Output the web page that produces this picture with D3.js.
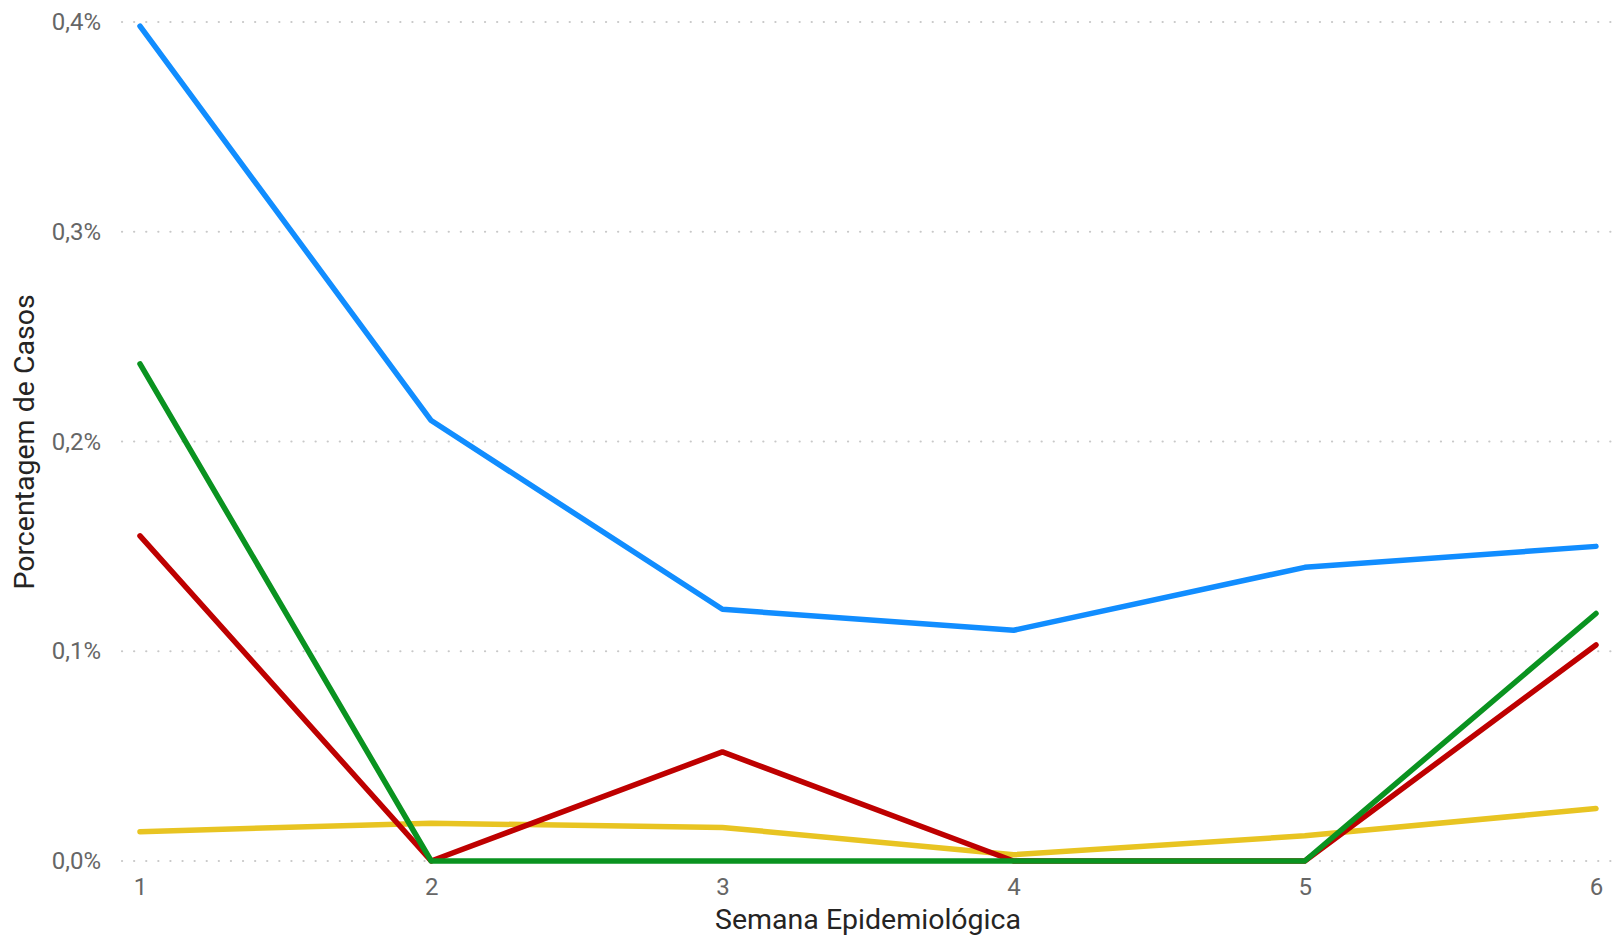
<!DOCTYPE html>
<html>
<head>
<meta charset="utf-8">
<script src="https://cdn.jsdelivr.net/npm/d3@7"></script>
<style>
  body { margin: 0; background: #fff; }
  text { font-family: Roboto, "Noto Sans", sans-serif; }
  .tick-label { fill: #666666; font-size: 24px; }
  .axis-title { fill: #252423; font-size: 28.5px; }
</style>
</head>
<body>
<div id="chart"></div>
<script>
const weeks = [1, 2, 3, 4, 5, 6]
const yTicks = [0, 0.001, 0.002, 0.003, 0.004]

const seriesBlue = [0.00398, 0.0021, 0.0012, 0.0011, 0.0014, 0.0015]
const seriesYellow = [0.00014, 0.00018, 0.00016, 0.00003, 0.00012, 0.00025]
const seriesRed = [0.00155, 0, 0.00052, 0, 0, 0.00103]
const seriesGreen = [0.00237, 0, 0, 0, 0, 0.00118]

// drawing order: first drawn sits below
const series = [
  {name: "amarelo", color: "#E8C422", values: seriesYellow},
  {name: "azul", color: "#118DFF", values: seriesBlue},
  {name: "vermelho", color: "#BE0000", values: seriesRed},
  {name: "verde", color: "#0A9320", values: seriesGreen},
]

const width = 1612, height = 938
const plot = {left: 140, right: 1596, top: 22, bottom: 861}

const ptBR = d3.formatLocale({decimal: ",", thousands: ".", grouping: [3], currency: ["R$", ""]})
const pct = ptBR.format(".1%")

const x = d3.scaleLinear().domain([1, 6]).range([plot.left, plot.right])
const y = d3.scaleLinear().domain([0, 0.004]).range([plot.bottom, plot.top])

const svg = d3.select("#chart").append("svg")
  .attr("width", width)
  .attr("height", height)

// gridlines
svg.append("g")
  .selectAll("line")
  .data(yTicks)
  .join("line")
  .attr("x1", 122)
  .attr("x2", width)
  .attr("y1", d => y(d))
  .attr("y2", d => y(d))
  .attr("stroke", "#C8C8C8")
  .attr("stroke-width", 2.2)
  .attr("stroke-linecap", "round")
  .attr("stroke-dasharray", "0.1,12")

// y axis labels
const yAxis = svg.append("g")
  .attr("transform", `translate(101,0)`)
  .call(d3.axisLeft(y).tickValues(yTicks).tickFormat(pct).tickSize(0).tickPadding(0))
yAxis.select(".domain").remove()
yAxis.selectAll("text")
  .attr("class", "tick-label")
  .attr("fill", null)
  .attr("font-family", null)
  .attr("font-size", null)

// x axis labels
const xAxis = svg.append("g")
  .attr("transform", `translate(0,${plot.bottom})`)
  .call(d3.axisBottom(x).tickValues(weeks).tickFormat(d3.format("d")).tickSize(0).tickPadding(17))
xAxis.select(".domain").remove()
xAxis.selectAll("text")
  .attr("class", "tick-label")
  .attr("fill", null)
  .attr("font-family", null)
  .attr("font-size", null)

// axis titles
svg.append("text")
  .attr("class", "axis-title")
  .attr("x", (plot.left + plot.right) / 2)
  .attr("y", 929)
  .attr("text-anchor", "middle")
  .text("Semana Epidemiológica")

svg.append("text")
  .attr("class", "axis-title")
  .attr("transform", `translate(34,442) rotate(-90)`)
  .attr("text-anchor", "middle")
  .text("Porcentagem de Casos")

// lines
const line = d3.line()
  .x((d, i) => x(weeks[i]))
  .y(d => y(d))

svg.append("g")
  .selectAll("path")
  .data(series)
  .join("path")
  .attr("d", d => line(d.values))
  .attr("fill", "none")
  .attr("stroke", d => d.color)
  .attr("stroke-width", 5.5)
  .attr("stroke-linecap", "round")
  .attr("stroke-linejoin", "round")
</script>
</body>
</html>
